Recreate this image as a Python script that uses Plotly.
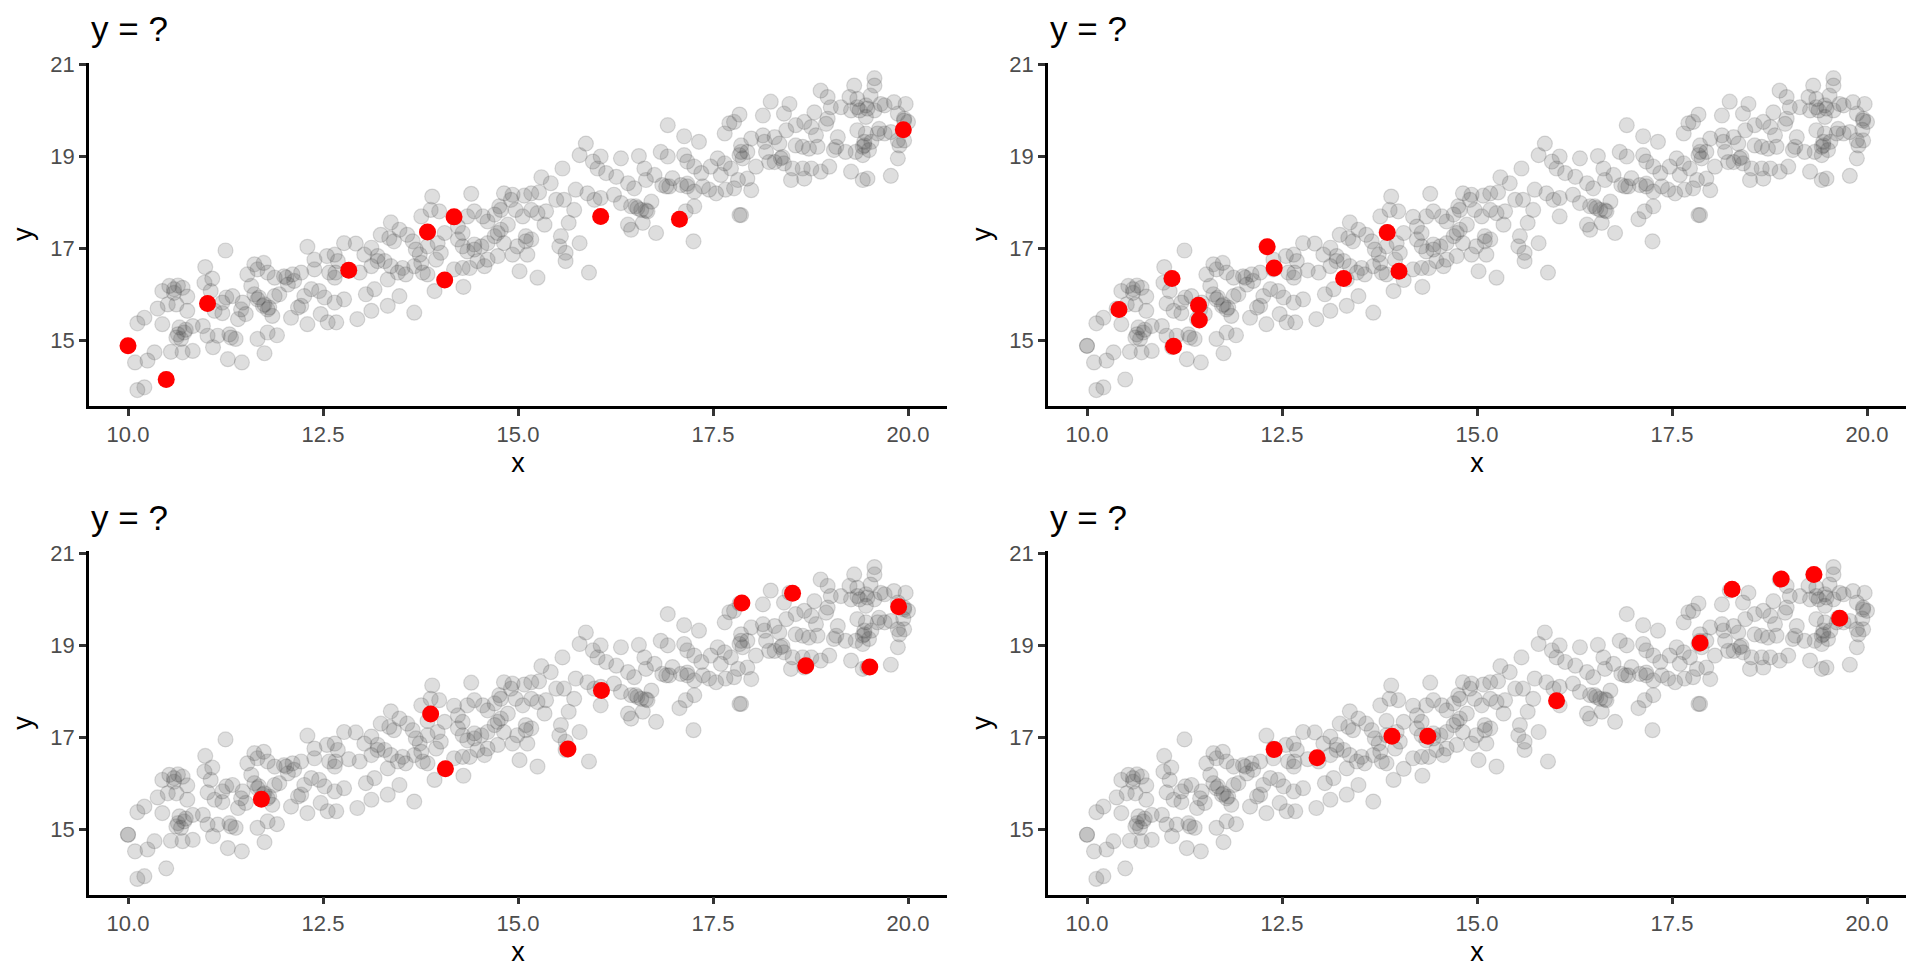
import plotly.graph_objects as go
from plotly.subplots import make_subplots

# background cloud of observations (same in every panel)
cloud_x = [
    11.25, 12.30, 10.99, 11.62, 11.74, 12.39, 12.55, 11.08, 10.98, 11.53, 11.66, 11.79, 11.88, 12.00,
    12.11, 12.22, 12.39, 12.58, 10.53, 10.64, 10.70, 10.44, 10.59, 10.76, 11.06, 11.26, 11.34, 11.21,
    11.47, 11.58, 11.62, 11.68, 11.75, 11.81, 11.88, 11.94, 12.05, 12.13, 12.26, 12.35, 12.45, 12.52,
    10.38, 10.51, 10.62, 10.76, 11.11, 11.21, 11.45, 11.51, 11.41, 11.85, 12.09, 12.18, 12.30, 12.47,
    12.56, 12.22, 10.21, 10.12, 10.44, 10.66, 10.72, 10.83, 10.96, 10.62, 10.68, 11.02, 11.15, 11.30,
    11.38, 11.66, 11.79, 11.91, 10.34, 10.25, 10.09, 10.55, 10.70, 10.83, 11.09, 11.28, 11.46, 11.75,
    10.12, 10.21, 10.64, 10.74, 11.73, 11.79, 11.32, 12.03, 10.59, 11.66,
    15.30, 15.42, 13.90, 14.40, 14.82, 14.93, 15.08, 15.17, 15.27, 13.88, 13.99, 13.76, 13.37, 13.48,
    13.24, 12.77, 12.92, 13.12, 13.03, 13.20, 13.29, 13.35, 13.41, 13.58, 13.65, 13.69, 13.74, 13.84,
    13.97, 14.01, 13.95, 14.06, 14.23, 14.29, 14.35, 14.44, 14.55, 14.61, 14.70, 14.76, 14.91, 14.97,
    15.06, 15.17, 15.25, 15.36, 15.34, 14.87, 14.78, 14.70, 14.61, 14.53, 14.44, 14.35, 14.29, 14.23,
    14.82, 14.93, 14.99, 15.10, 15.17, 15.12, 14.74, 14.61, 14.48, 14.57, 14.38, 14.29, 14.18, 14.74,
    12.65, 12.69, 12.65, 12.97, 13.12, 13.37, 13.46, 13.56, 13.67, 13.76, 13.84, 13.33, 13.05, 13.16,
    13.48, 13.33, 13.12, 12.94, 12.67, 12.77, 12.65, 13.67, 13.93, 14.30, 15.02, 15.25, 13.52, 13.78,
    13.20, 14.44, 14.78, 15.10, 12.66,
    16.92, 17.13, 17.32, 17.71, 17.65, 15.87, 15.79, 15.96, 16.06, 16.32, 16.55, 16.83, 16.92, 17.13,
    17.17, 17.26, 17.35, 17.47, 17.56, 17.65, 17.73, 17.60, 15.57, 16.02, 16.13, 16.26, 16.41, 16.49,
    16.62, 16.75, 16.64, 16.85, 16.94, 16.98, 17.09, 17.17, 17.26, 17.37, 17.45, 17.54, 17.66, 15.74,
    15.89, 15.59, 15.49, 15.72, 15.98, 16.06, 16.23, 16.32, 16.45, 16.51, 16.58, 16.66, 16.71, 16.60,
    16.41, 16.45, 16.77, 17.26, 17.15, 15.65, 15.55, 15.53, 15.61, 15.61, 15.79, 15.91, 17.25, 16.90,
    17.17, 16.53, 16.64,
    19.57, 19.57, 19.31, 18.88, 18.97, 19.25, 19.35, 19.52, 19.65, 19.82, 19.97, 19.46, 19.38, 19.27,
    19.14, 19.01, 19.46, 19.57, 19.70, 19.87, 19.95, 20.00, 18.24, 18.48, 17.84, 18.14, 18.41, 18.80,
    18.67, 18.56, 18.76, 18.95, 18.97, 18.82, 18.44, 18.29, 18.14, 17.99, 18.16, 18.35, 18.56, 18.65,
    18.73, 18.84, 19.08, 19.10, 19.20, 19.05, 19.35, 19.46, 19.44, 19.53, 19.61, 19.70, 19.63, 19.78,
    19.33, 19.42, 19.50, 19.42, 19.87, 19.95, 19.89, 19.87, 17.77, 17.86, 17.94, 17.84, 17.88, 18.18,
    18.37, 18.41, 18.29, 18.22, 18.05, 18.52, 18.65, 18.76, 18.88, 18.99, 19.27, 19.42, 19.48, 19.78,
    18.50, 18.67, 17.82, 17.94, 17.77, 17.99, 17.84, 17.86, 19.35, 19.48, 19.44, 18.39, 19.95, 17.86,
    10.00,
]
cloud_y = [
    16.96, 17.04, 16.60, 16.66, 16.69, 16.76, 16.84, 16.35, 16.26, 16.44, 16.55, 16.48, 16.37, 16.40,
    16.44, 16.48, 16.55, 16.48, 16.19, 16.20, 16.15, 16.08, 16.04, 15.96, 16.08, 15.94, 15.97, 15.83,
    15.83, 16.19, 16.01, 15.94, 15.79, 15.72, 15.97, 16.01, 16.22, 16.30, 15.97, 16.12, 16.08, 15.94,
    15.70, 15.79, 15.79, 15.65, 15.65, 15.60, 15.68, 15.58, 15.47, 15.54, 15.50, 15.72, 15.36, 15.58,
    15.40, 15.76, 15.50, 15.38, 15.36, 15.29, 15.18, 15.32, 15.32, 15.07, 15.04, 15.11, 15.11, 15.14,
    15.04, 15.04, 15.18, 15.12, 14.75, 14.57, 14.53, 14.76, 14.75, 14.78, 14.86, 14.60, 14.53, 14.73,
    13.93, 13.99, 15.14, 15.24, 15.76, 15.68, 15.07, 16.37, 16.12, 15.90,
    18.55, 18.42, 18.13, 18.19, 18.20, 18.17, 18.15, 18.20, 18.22, 17.84, 17.81, 17.70, 17.57, 17.41,
    17.30, 17.12, 17.11, 17.02, 16.87, 16.84, 16.73, 17.23, 17.16, 17.30, 17.16, 16.98, 16.87, 17.05,
    17.12, 16.91, 16.76, 17.34, 17.48, 17.34, 17.70, 17.81, 17.70, 17.59, 17.74, 17.92, 18.06, 17.84,
    17.70, 17.84, 17.77, 17.81, 17.52, 17.52, 17.41, 17.27, 17.12, 17.05, 17.09, 16.94, 17.05, 17.20,
    17.12, 16.87, 17.05, 17.27, 17.20, 16.87, 16.84, 16.76, 16.73, 16.62, 16.58, 16.58, 16.55, 17.34,
    16.87, 16.73, 16.37, 16.48, 16.62, 16.62, 16.48, 16.44, 16.62, 16.69, 16.44, 16.33, 16.01, 16.12,
    15.97, 15.76, 15.65, 15.47, 15.40, 15.90, 15.83, 15.61, 16.08, 16.17, 16.51, 16.37, 16.58, 16.48,
    16.73, 16.98, 17.84, 17.16, 16.48,
    19.68, 19.44, 19.32, 19.72, 19.50, 19.28, 19.03, 18.89, 19.00, 18.96, 19.01, 19.10, 19.00, 19.03,
    18.89, 18.78, 18.64, 18.78, 18.96, 18.85, 18.74, 18.60, 18.74, 18.74, 18.64, 18.56, 18.42, 18.31,
    18.74, 18.60, 18.49, 18.38, 18.35, 18.53, 18.38, 18.35, 18.24, 18.35, 18.28, 18.20, 18.28, 18.28,
    18.20, 18.06, 18.06, 17.84, 18.06, 18.10, 18.17, 17.99, 17.92, 17.92, 17.84, 17.81, 18.02, 17.56,
    17.52, 17.41, 17.34, 17.92, 17.81, 17.56, 17.27, 17.05, 16.91, 16.73, 17.12, 16.48, 17.16, 18.35,
    18.41, 17.88, 17.83,
    20.70, 20.54, 20.54, 20.43, 20.29, 20.29, 20.25, 20.32, 20.14, 20.18, 20.14, 20.11, 20.00, 20.00,
    20.07, 20.07, 19.86, 20.00, 20.11, 19.93, 19.82, 19.75, 20.19, 20.14, 19.91, 19.89, 19.93, 19.96,
    19.75, 19.68, 19.64, 19.71, 19.82, 19.46, 19.57, 19.42, 19.46, 19.39, 19.32, 19.28, 19.24, 19.21,
    19.17, 19.21, 19.21, 19.42, 19.10, 19.14, 19.57, 19.50, 19.32, 19.32, 19.50, 19.50, 19.60, 19.53,
    19.10, 19.03, 19.14, 19.21, 19.35, 19.35, 19.24, 18.96, 19.75, 19.24, 19.10, 19.03, 18.96, 19.10,
    18.96, 18.85, 18.88, 18.88, 18.78, 18.74, 18.74, 18.74, 18.67, 18.78, 18.67, 18.49, 18.52, 18.58,
    18.49, 18.52, 18.49, 18.52, 18.31, 18.27, 17.73, 17.73, 20.07, 20.04, 19.24, 18.99, 19.78, 19.10,
    14.89,
]

# highlighted sample in each panel
red1_x = [10.00, 10.49, 11.02, 12.83, 13.84, 14.18, 14.06, 16.06, 17.07, 19.94]
red1_y = [14.89, 14.16, 15.81, 16.53, 17.36, 17.69, 16.32, 17.70, 17.64, 19.58]
red2_x = [10.41, 11.09, 11.11, 11.43, 11.44, 12.31, 12.40, 13.29, 13.85, 14.00]
red2_y = [15.68, 16.35, 14.88, 15.77, 15.45, 17.04, 16.58, 16.35, 17.35, 16.51]
red3_x = [11.71, 13.88, 14.07, 15.64, 16.07, 17.87, 18.52, 18.69, 19.51, 19.88]
red3_y = [15.66, 17.51, 16.32, 16.75, 18.02, 19.92, 20.13, 18.56, 18.53, 19.84]
red4_x = [12.40, 12.95, 13.91, 14.37, 16.02, 17.86, 18.27, 18.90, 19.32, 19.65]
red4_y = [16.74, 16.56, 17.03, 17.03, 17.80, 19.05, 20.22, 20.44, 20.54, 19.59]

# the panel-1 sample also sits in the cloud (hidden under red there)
gray_x = cloud_x + red1_x
gray_y = cloud_y + red1_y

x_ticks = [10.0, 12.5, 15.0, 17.5, 20.0]
x_labels = ["10.0", "12.5", "15.0", "17.5", "20.0"]
y_ticks = [15, 17, 19, 21]

FONT = "Liberation Sans, Arial, sans-serif"
W, H = 1920, 979
OX, OY = 7, 16  # page offset of the plot div in the browser
SY = 1.008      # small vertical correction measured against the reference


def px_x(p):
    return (p - OX) / W


def px_y(q):
    q = 61 + (q - 61) * SY
    return 1 - (q - OY) / H


fig = make_subplots(rows=2, cols=2)

reds = [(red1_x, red1_y), (red2_x, red2_y), (red3_x, red3_y), (red4_x, red4_y)]
cells = [(1, 1), (1, 2), (2, 1), (2, 2)]
for (rx, ry), (r, c) in zip(reds, cells):
    fig.add_trace(go.Scatter(
        x=gray_x, y=gray_y, mode="markers",
        marker=dict(size=15, color="rgba(70,70,70,0.18)",
                    line=dict(color="rgba(70,70,70,0.18)", width=1.2)),
        showlegend=False, hoverinfo="skip"), row=r, col=c)
    fig.add_trace(go.Scatter(
        x=rx, y=ry, mode="markers",
        marker=dict(size=17, color="#ff0000", line=dict(width=0)),
        showlegend=False), row=r, col=c)

# panel placement (pixels of the reference)
x_doms = [[px_x(88), px_x(946)], [px_x(1047), px_x(1905)]]
y_doms = [[px_y(405), px_y(61)], [px_y(895), px_y(551)]]

axis_common = dict(
    showgrid=False, zeroline=False, showline=True, linecolor="black", linewidth=2.5,
    ticks="outside", ticklen=7, tickwidth=2.5, tickcolor="#333333",
    tickfont=dict(family=FONT, size=22, color="#4d4d4d"),
)
for (r, c) in cells:
    fig.update_xaxes(axis_common, row=r, col=c, range=[9.5, 20.5], domain=x_doms[c - 1],
                     tickvals=x_ticks, ticktext=x_labels,
                     title=dict(text="x", font=dict(family=FONT, size=27, color="black"), standoff=8))
    fig.update_yaxes(axis_common, row=r, col=c, range=[13.59, 21.04], domain=y_doms[r - 1],
                     tickvals=y_ticks,
                     title=dict(text="y", font=dict(family=FONT, size=27, color="black"), standoff=10))

annotations = []
for (r, c) in cells:
    annotations.append(dict(
        text="y = ?", xref="paper", yref="paper",
        x=x_doms[c - 1][0], y=px_y(27 + 490 * (r - 1)),
        xanchor="left", yanchor="middle", showarrow=False,
        font=dict(family=FONT, size=35, color="black")))

fig.update_layout(
    width=W, height=H, autosize=False,
    margin=dict(l=0, r=0, t=0, b=0),
    paper_bgcolor="white", plot_bgcolor="white",
    annotations=annotations,
)

fig.write_html("out.html")
